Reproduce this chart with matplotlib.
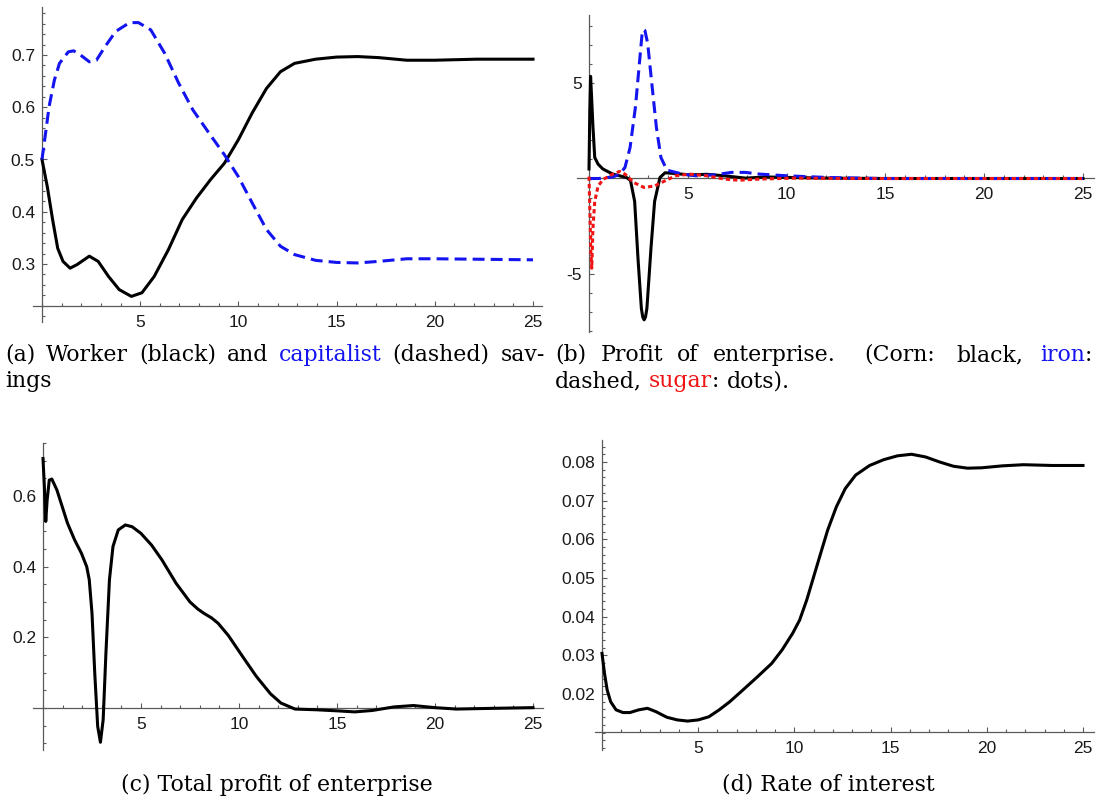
import matplotlib
matplotlib.use("Agg")
import matplotlib.pyplot as plt
from matplotlib.ticker import MultipleLocator, FixedLocator, FormatStrFormatter

plt.rcParams["font.family"] = ["Liberation Sans", "DejaVu Sans"]

W, H = 1097, 801
BLUE = "#1414f0"
RED = "#f01414"
AXIS_GREY = "#5a5a5a"

# (a) savings
a_t = [0, 0.27, 0.54, 0.8, 1.07, 1.43, 1.79, 2.41, 2.86, 3.39, 3.93, 4.55, 5.09,
       5.71, 6.43, 7.14, 7.86, 8.57, 9.29, 10, 10.7, 11.43, 12.14, 12.86, 13.93,
       15, 16.07, 17.14, 18.57, 20, 22.14, 25]
a_worker = [0.5, 0.448, 0.385, 0.33, 0.305, 0.292, 0.299, 0.315, 0.305, 0.276,
            0.251, 0.238, 0.245, 0.276, 0.327, 0.385, 0.426, 0.461, 0.493, 0.538,
            0.589, 0.636, 0.668, 0.684, 0.692, 0.696, 0.697, 0.695, 0.69, 0.69,
            0.692, 0.692]
a_cap_t = [0, 0.18, 0.36, 0.63, 0.89, 1.34, 1.61, 1.96, 2.41, 2.77, 3.21, 3.75,
           4.46, 4.91, 5.54, 6.25, 6.96, 7.68, 8.57, 9.29, 10, 10.7, 11.43, 12.14,
           12.86, 13.93, 15, 16.07, 17.14, 18.57, 20, 25]
a_capitalist = [0.5, 0.55, 0.601, 0.652, 0.684, 0.706, 0.708, 0.7, 0.687, 0.69,
                0.716, 0.745, 0.762, 0.762, 0.748, 0.703, 0.646, 0.595, 0.547,
                0.509, 0.467, 0.417, 0.366, 0.334, 0.318, 0.307, 0.303, 0.302,
                0.305, 0.31, 0.31, 0.308]
a_yticks = [0.3, 0.4, 0.5, 0.6, 0.7]

# (b) profit of enterprise per sector
b_corn_t = [0, 0.04, 0.08, 0.12, 0.2, 0.29, 0.46, 0.7, 1.2, 1.9, 2.1, 2.31, 2.48,
            2.65, 2.72, 2.79, 2.86, 2.93, 3.14, 3.32, 3.59, 3.85, 4.38, 5.09, 5.97,
            6.86, 7.92, 8.98, 10.4, 12, 15, 20, 25]
b_corn = [0.5, 3.5, 5.35, 4.5, 2.7, 1.1, 0.75, 0.5, 0.23, 0.05, -0.1, -1.2, -4.2,
          -6.8, -7.25, -7.4, -7.25, -6.8, -3.6, -1.2, 0.05, 0.3, 0.26, 0.19, 0.22,
          0.14, 0.02, 0.08, 0.05, 0.02, 0.0, 0.0, 0.0]
b_iron_t = [0, 0.5, 1.2, 1.55, 1.82, 2.08, 2.35, 2.58, 2.68, 2.76, 2.83, 2.97,
            3.18, 3.41, 3.64, 3.94, 4.2, 4.73, 5.44, 6.33, 7.21, 7.92, 8.63, 10.04,
            12.16, 14.8, 20, 25]
b_iron = [0, 0, 0.08, 0.22, 0.58, 1.63, 3.74, 6.37, 7.5, 7.8, 7.75, 7.07, 4.96,
          2.68, 1.1, 0.44, 0.37, 0.23, 0.14, 0.19, 0.32, 0.32, 0.23, 0.14, 0.05,
          0.0, 0.0, 0.0]
b_sugar_t = [0, 0.04, 0.09, 0.14, 0.2, 0.29, 0.46, 0.71, 1.2, 1.55, 1.82, 2.26,
             2.79, 3.32, 3.85, 4.38, 5.09, 5.97, 6.86, 7.56, 8.63, 10.4, 13, 25]
b_sugar = [0.1, -1.5, -3.8, -4.7, -2.6, -1.2, -0.4, -0.05, 0.23, 0.37, 0.23,
           -0.21, -0.47, -0.39, -0.12, 0.14, 0.23, 0.14, -0.03, -0.09, -0.03,
           0.02, 0.0, 0.0]
b_yticks = [-5, 5]

# (c) total profit of enterprise
c_t = [0, 0.07, 0.14, 0.21, 0.32, 0.45, 0.71, 0.98, 1.25, 1.61, 1.96, 2.23, 2.36,
       2.5, 2.64, 2.79, 2.93, 3.07, 3.21, 3.39, 3.57, 3.84, 4.2, 4.55, 5, 5.54,
       6.07, 6.79, 7.5, 7.9, 8.21, 8.6, 8.93, 9.46, 10.18, 10.89, 11.61, 12.14,
       12.86, 13.93, 15, 15.9, 16.8, 17.9, 18.9, 20, 21.1, 22.9, 25]
c_total = [0.706, 0.626, 0.528, 0.588, 0.645, 0.648, 0.617, 0.57, 0.523, 0.476,
           0.438, 0.4, 0.363, 0.268, 0.099, -0.052, -0.097, -0.033, 0.155, 0.363,
           0.457, 0.504, 0.518, 0.513, 0.494, 0.461, 0.419, 0.353, 0.3, 0.28,
           0.268, 0.255, 0.24, 0.205, 0.146, 0.089, 0.04, 0.014, -0.003, -0.005,
           -0.008, -0.011, -0.007, 0.003, 0.007, 0.001, -0.003, -0.001, 0.001]
c_yticks = [0.2, 0.4, 0.6]

# (d) rate of interest
d_t = [0, 0.13, 0.27, 0.45, 0.73, 1.09, 1.45, 1.91, 2.36, 2.82, 3.36, 3.91, 4.45,
       5, 5.55, 6.09, 6.64, 7.36, 8.09, 8.82, 9.36, 9.91, 10.27, 10.64, 11, 11.36,
       11.73, 12.18, 12.64, 13.18, 13.91, 14.64, 15.36, 16.09, 16.82, 17.55,
       18.27, 19, 19.73, 20.8, 21.9, 23.4, 25]
d_rate = [0.0305, 0.0253, 0.021, 0.018, 0.0159, 0.0152, 0.0152, 0.0159, 0.0163,
          0.0154, 0.014, 0.0133, 0.013, 0.0133, 0.0141, 0.0159, 0.018, 0.0212,
          0.0245, 0.0279, 0.0314, 0.0357, 0.0391, 0.0443, 0.0503, 0.0563, 0.0624,
          0.0684, 0.0731, 0.0766, 0.0791, 0.0806, 0.0816, 0.082, 0.0813, 0.08,
          0.0789, 0.0784, 0.0785, 0.079, 0.0793, 0.0791, 0.0791]
d_yticks = [0.02, 0.03, 0.04, 0.05, 0.06, 0.07, 0.08]

x_ticks = [5, 10, 15, 20, 25]


def add_panel(fig, box, x_ref, y_ref, axis_py, y_ticks, y_minor, y_fmt):
    """
    Mathematica style axes: box is the pixel extent of the axis lines,
    x_ref/y_ref map pixels to data, axis_py is where the x axis crosses.
    """
    left, top, right, bottom = box
    px0, px25 = x_ref
    py_a, v_a, py_b, v_b = y_ref

    def tx(px):
        return (px - px0) / (px25 - px0) * 25

    def vy(py):
        return v_a + (py - py_a) * (v_b - v_a) / (py_b - py_a)

    ax = fig.add_axes([left / W, 1 - bottom / H, (right - left) / W, (bottom - top) / H])
    ax.patch.set_visible(False)
    ax.set_xlim(tx(left), tx(right))
    ax.set_ylim(vy(bottom), vy(top))
    for side in ("top", "right"):
        ax.spines[side].set_visible(False)
    ax.spines["left"].set_position(("data", 0))
    ax.spines["bottom"].set_position(("data", vy(axis_py)))
    for side in ("left", "bottom"):
        ax.spines[side].set_color(AXIS_GREY)
        ax.spines[side].set_linewidth(0.9)

    ax.xaxis.set_major_locator(FixedLocator(x_ticks))
    ax.xaxis.set_minor_locator(MultipleLocator(1))
    ax.yaxis.set_major_locator(FixedLocator(y_ticks))
    ax.yaxis.set_minor_locator(MultipleLocator(y_minor))
    ax.xaxis.set_major_formatter(FormatStrFormatter("%d"))
    ax.yaxis.set_major_formatter(FormatStrFormatter(y_fmt))

    ax.tick_params(which="both", direction="in", color=AXIS_GREY, width=0.8,
                   labelsize=12.5, labelcolor="#1a1a1a")
    ax.tick_params(which="major", length=3.6)
    ax.tick_params(which="minor", length=2.0)
    ax.tick_params(axis="x", pad=6.5)
    ax.tick_params(axis="y", pad=5)
    return ax


CAP_SIZE = 15.8


def text_width(fig, s, **kw):
    t = fig.text(0, 0, s, **kw)
    w = t.get_window_extent(fig.canvas.get_renderer()).width
    t.remove()
    return w


def caption_line(fig, words, x0, x1, y, justify=True, size=CAP_SIZE):
    """
    Words are lists of (text, colour) pieces. Justified lines stretch the gaps,
    more after a full stop or colon (as TeX does).
    """
    kw = dict(fontsize=size, family="DejaVu Serif")
    space = text_width(fig, "a b", **kw) - text_width(fig, "ab", **kw)
    widths = [sum(text_width(fig, s, **kw) for s, _ in word) for word in words]
    weights = []
    for word in words[:-1]:
        last = word[-1][0][-1]
        weights.append({".": 3.0, ":": 2.0, ",": 1.25}.get(last, 1.0))
    if justify and len(words) > 1:
        extra = (x1 - x0 - sum(widths)) - space * len(weights)
        gaps = [space + extra * w / sum(weights) for w in weights]
    else:
        gaps = [space] * len(weights)
    gaps.append(0)
    x = x0
    for word, gap in zip(words, gaps):
        for s, colour in word:
            fig.text(x / W, 1 - y / H, s, color=colour, va="baseline", ha="left", **kw)
            x += text_width(fig, s, **kw)
        x += gap


fig = plt.figure(figsize=(W / 100, H / 100), dpi=100)
fig.canvas.draw()

line_kw = dict(lw=2.2, zorder=3, clip_on=False)

ax_a = add_panel(fig, (33, 7, 542, 322), (42, 533), (55, 0.7, 264, 0.3), 306,
                 a_yticks, 0.02, "%.1f")
ax_a.plot(a_t, a_worker, color="black", **line_kw)
ax_a.plot(a_cap_t, a_capitalist, color=BLUE, dashes=(3.9, 2.0), **line_kw)

ax_b = add_panel(fig, (577, 15, 1094, 332), (589, 1083), (83, 5, 274, -5), 178,
                 b_yticks, 1, "%g")
ax_b.plot(b_corn_t, b_corn, color="black", **line_kw)
ax_b.plot(b_iron_t, b_iron, color=BLUE, dashes=(3.9, 2.0), **line_kw)
ax_b.plot(b_sugar_t, b_sugar, color=RED, dashes=(1.4, 1.0), **line_kw)

ax_c = add_panel(fig, (33, 443, 543, 750), (43, 533), (496, 0.6, 708, 0.0), 708,
                 c_yticks, 0.05, "%.1f")
ax_c.plot(c_t, c_total, color="black", **line_kw)

ax_d = add_panel(fig, (595, 440, 1094, 750), (602, 1083), (462, 0.08, 694, 0.02), 732,
                 d_yticks, 0.002, "%.2f")
ax_d.plot(d_t, d_rate, color="black", **line_kw)

K = "black"
caption_line(fig, [[("(a)", K)], [("Worker", K)], [("(black)", K)], [("and", K)],
                   [("capitalist", BLUE)], [("(dashed)", K)], [("sav-", K)]],
             5, 545, 361)
caption_line(fig, [[("ings", K)]], 5, 545, 387, justify=False)
caption_line(fig, [[("(b)", K)], [("Profit", K)], [("of", K)], [("enterprise.", K)],
                   [("(Corn:", K)], [("black,", K)], [("iron", BLUE), (":", K)]],
             555, 1092, 361)
caption_line(fig, [[("dashed,", K)], [("sugar", RED), (":", K)], [("dots).", K)]],
             555, 1092, 387, justify=False)

fig.text(277 / W, 1 - 791 / H, "(c) Total profit of enterprise", ha="center",
         va="baseline", fontsize=CAP_SIZE, family="DejaVu Serif")
fig.text(828 / W, 1 - 791 / H, "(d) Rate of interest", ha="center",
         va="baseline", fontsize=CAP_SIZE, family="DejaVu Serif")

fig.savefig("out.png", dpi=100)
